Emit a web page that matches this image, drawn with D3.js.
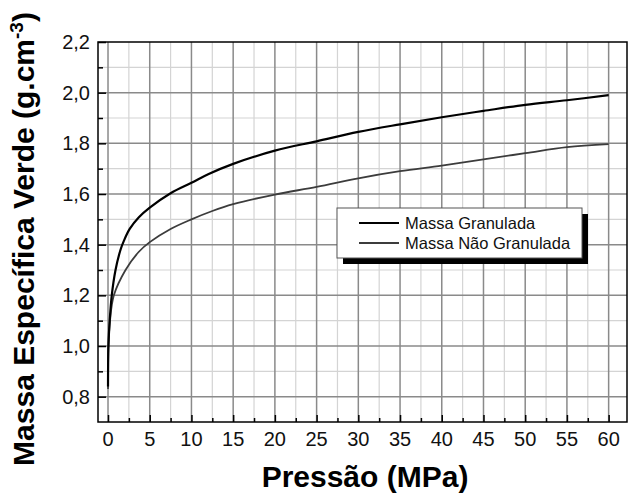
<!DOCTYPE html>
<html>
<head>
<meta charset="utf-8">
<script src="https://cdn.jsdelivr.net/npm/d3@7.9.0/dist/d3.min.js"></script>
<style>
  body { margin: 0; background: #fff; }
  text { font-family: "Liberation Sans", Arial, sans-serif; }
</style>
</head>
<body>
<svg id="chart" width="628" height="493"></svg>
<script>
// pressure (MPa) / green density (g.cm-3)
const granPressure = [0, 0.05, 0.2, 0.45, 0.9, 1.5, 1.9, 2.6, 3.7, 5, 7.5, 10, 12, 15, 20, 25, 30, 35, 40, 45, 50, 55, 60];
const granDensity  = [0.84, 1.0, 1.1, 1.2, 1.3, 1.38, 1.415, 1.462, 1.508, 1.546, 1.603, 1.644, 1.678, 1.719, 1.771, 1.808, 1.845, 1.875, 1.903, 1.928, 1.952, 1.97, 1.99];

const naoPressure = [0, 0.05, 0.24, 0.7, 2.1, 3.7, 5, 7.5, 10, 12.5, 15, 20, 25, 30, 35, 40, 45, 50, 55, 60];
const naoDensity  = [0.83, 1.0, 1.1, 1.2, 1.3, 1.372, 1.41, 1.462, 1.5, 1.533, 1.56, 1.598, 1.628, 1.662, 1.69, 1.712, 1.737, 1.761, 1.785, 1.797];

const xTicks = [0, 5, 10, 15, 20, 25, 30, 35, 40, 45, 50, 55, 60];
const yTicks = [0.8, 1.0, 1.2, 1.4, 1.6, 1.8, 2.0, 2.2];
const seriesNames = ['Massa Granulada', 'Massa Não Granulada'];

const svg = d3.select('#chart');
const pl = 98, pr = 627, pt = 42, pb = 422;

const x = d3.scaleLinear().domain([-1.2, 62.2]).range([pl, pr]);
const y = d3.scaleLinear().domain([0.7, 2.2]).range([pb, pt]);

// grid: minor first, major over it
const minorX = d3.range(2.5, 60, 5);
const minorY = d3.range(0.9, 2.15, 0.2);
svg.append('g').selectAll('line').data(minorX).enter().append('line')
    .attr('x1', d => x(d)).attr('x2', d => x(d)).attr('y1', pt).attr('y2', pb)
    .attr('stroke', '#d4d4d4').attr('stroke-width', 1.2);
svg.append('g').selectAll('line').data(minorY).enter().append('line')
    .attr('x1', pl).attr('x2', pr).attr('y1', d => y(d)).attr('y2', d => y(d))
    .attr('stroke', '#d4d4d4').attr('stroke-width', 1.2);
svg.append('g').selectAll('line').data(xTicks).enter().append('line')
    .attr('x1', d => x(d)).attr('x2', d => x(d)).attr('y1', pt).attr('y2', pb)
    .attr('stroke', '#8a8a8a').attr('stroke-width', 1.5);
svg.append('g').selectAll('line').data(yTicks.slice(0, -1)).enter().append('line')
    .attr('x1', pl).attr('x2', pr).attr('y1', d => y(d)).attr('y2', d => y(d))
    .attr('stroke', '#8a8a8a').attr('stroke-width', 1.5);

// inward ticks
const xAxis = d3.axisBottom(x).tickValues(xTicks).tickSize(-7).tickFormat('');
const xMinor = d3.axisBottom(x).tickValues(minorX).tickSize(-4).tickFormat('');
const yAxis = d3.axisLeft(y).tickValues(yTicks).tickSize(-8).tickFormat('');
const yMinor = d3.axisLeft(y).tickValues(minorY).tickSize(-5).tickFormat('');
[[xAxis, `translate(0,${pb})`], [xMinor, `translate(0,${pb})`],
 [yAxis, `translate(${pl},0)`], [yMinor, `translate(${pl},0)`]].forEach(([ax, tr]) => {
    const g = svg.append('g').attr('transform', tr).call(ax);
    g.select('.domain').remove();
    g.selectAll('line').attr('stroke', '#000').attr('stroke-width', 1.5);
});

// frame
svg.append('rect').attr('x', pl).attr('y', pt)
    .attr('width', pr - pl).attr('height', pb - pt)
    .attr('fill', 'none').attr('stroke', '#000').attr('stroke-width', 1.5);

// tick labels
svg.append('g').selectAll('text').data(xTicks).enter().append('text')
    .attr('x', d => x(d)).attr('y', 446)
    .attr('text-anchor', 'middle').attr('font-size', 20).attr('fill', '#111')
    .text(d => d);
svg.append('g').selectAll('text').data(yTicks).enter().append('text')
    .attr('x', 90).attr('y', d => y(d) + 7)
    .attr('text-anchor', 'end').attr('font-size', 20).attr('fill', '#111')
    .text(d => d3.format('.1f')(d).replace('.', ','));

// curves
const line = d3.line().x(d => x(d[0])).y(d => y(d[1])).curve(d3.curveCatmullRom.alpha(0.5));
svg.append('path').datum(naoPressure.map((p, i) => [p, naoDensity[i]]))
    .attr('d', line).attr('fill', 'none').attr('stroke', '#3c3c3c').attr('stroke-width', 1.8);
svg.append('path').datum(granPressure.map((p, i) => [p, granDensity[i]]))
    .attr('d', line).attr('fill', 'none').attr('stroke', '#000').attr('stroke-width', 2.2);

// legend
const lg = svg.append('g').attr('transform', 'translate(337,208)');
lg.append('rect').attr('x', 6).attr('y', 6).attr('width', 245).attr('height', 50).attr('fill', '#000');
lg.append('rect').attr('width', 245).attr('height', 50)
    .attr('fill', '#fff').attr('stroke', '#555').attr('stroke-width', 1);
const lgColors = ['#000', '#3c3c3c'];
seriesNames.forEach((name, i) => {
    lg.append('line').attr('x1', 22).attr('x2', 62).attr('y1', 15 + i * 20).attr('y2', 15 + i * 20)
        .attr('stroke', lgColors[i]).attr('stroke-width', 1.8);
    lg.append('text').attr('x', 68).attr('y', 21 + i * 20).attr('font-size', 16.5)
        .attr('fill', '#111').text(name);
});

// axis titles
svg.append('text').attr('x', 365).attr('y', 487).attr('text-anchor', 'middle')
    .attr('font-size', 30).attr('font-weight', 'bold').text('Pressão (MPa)');
const yt = svg.append('text').attr('transform', 'translate(34,239) rotate(-90)')
    .attr('text-anchor', 'middle').attr('font-size', 30).attr('font-weight', 'bold');
yt.append('tspan').text('Massa Específica Verde (g.cm');
yt.append('tspan').attr('dy', -11).attr('font-size', 19).text('-3');
yt.append('tspan').attr('dy', 11).text(')');
</script>
</body>
</html>
